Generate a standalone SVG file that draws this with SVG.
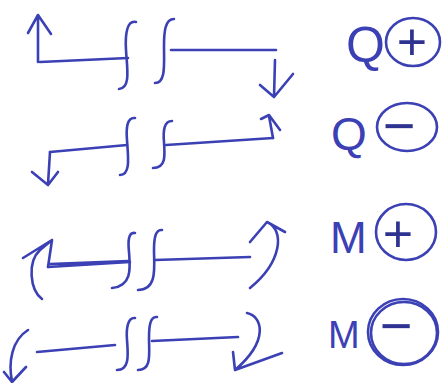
<svg xmlns="http://www.w3.org/2000/svg" width="446" height="383" viewBox="0 0 446 383">
<style>
.p{fill:none;stroke:#3b40b4;stroke-width:2.6;stroke-linecap:round;stroke-linejoin:round}
.t{font-family:"Liberation Sans",Arial,sans-serif;fill:#3b40b4}
.s{font-family:"Liberation Sans",Arial,sans-serif;fill:#2e3290;text-anchor:middle}
</style>
<rect width="446" height="383" fill="#ffffff"/>
<g id="connectors">
<g id="row-q-plus">
<path class="p" d="M38 62 L38 16 M28 33 L38 15 L51 34"/>
<path class="p" d="M40 62 L128 58"/>
<path class="p" d="M136 22 C127 20 125 34 126 50 C127 68 131 88 119 89"/>
<path class="p" d="M174 19 C165 19 164 32 164 46 C164 64 166 83 155 83"/>
<path class="p" d="M171 50 L276 50"/>
<path class="p" d="M275 60 L274 97 M260 85 L274 97 L293 74"/>
</g>
<g id="row-q-minus">
<path class="p" d="M135 118 C127 117 126 128 127 140 C128 156 131 175 120 175"/>
<path class="p" d="M172 121 C164 121 163 131 164 142 C165 156 166 168 153 168"/>
<path class="p" d="M50 152 L127 145"/>
<path class="p" d="M50 152 L48 184 M32 172 L48 185 L58 172"/>
<path class="p" d="M166 145 L273 138"/>
<path class="p" d="M273 138 L269 116 M261 119 L269 115 L280 130"/>
</g>
<g id="row-m-plus">
<path class="p" d="M42 299 C30 290 27 262 40 250 L52 240 M23 258 L52 240 L48 267"/>
<path class="p" d="M48 267 L130 262 M50 264 L128 261"/>
<path class="p" d="M135 233 C128 232 128 242 129 252 C130 266 133 286 112 288"/>
<path class="p" d="M162 230 C155 229 154 240 154 250 C154 266 158 290 138 290"/>
<path class="p" d="M155 260 L250 257"/>
<path class="p" d="M250 242 L267 222 L285 232 M267 222 C285 230 282 262 250 288"/>
</g>
<g id="row-m-minus">
<path class="p" d="M28 330 C12 340 8 362 12 381 M26 367 L12 382 L4 372"/>
<path class="p" d="M37 352 L115 345"/>
<path class="p" d="M135 318 C128 317 126 328 127 340 C128 354 130 370 117 370"/>
<path class="p" d="M157 317 C150 316 149 327 149 338 C149 354 152 370 138 370"/>
<path class="p" d="M152 341 L238 337"/>
<path class="p" d="M247 313 C262 316 270 340 235 370 M233 352 L235 370 L282 353"/>
</g>
</g>
<g id="label-q-plus">
<text class="t" x="346" y="62" font-size="50">Q</text>
<ellipse class="p" cx="413" cy="42" rx="27" ry="24"/>
<text class="s" x="412" y="60" font-size="52">+</text>
</g>
<g id="label-q-minus">
<text class="t" x="331" y="150" font-size="46">Q</text>
<ellipse class="p" cx="407" cy="127" rx="30" ry="24"/>
<text class="s" x="399" y="145" font-size="56">−</text>
</g>
<g id="label-m-plus">
<text class="t" x="330" y="253" font-size="44">M</text>
<ellipse class="p" cx="406" cy="232" rx="30" ry="28"/>
<text class="s" x="398" y="252" font-size="52">+</text>
</g>
<g id="label-m-minus">
<text class="t" x="328" y="348" font-size="38">M</text>
<ellipse class="p" cx="403" cy="332" rx="35" ry="33"/>
<ellipse class="p" cx="404" cy="333" rx="33" ry="31"/>
<text class="s" x="396" y="345" font-size="56">−</text>
</g>
</svg>
